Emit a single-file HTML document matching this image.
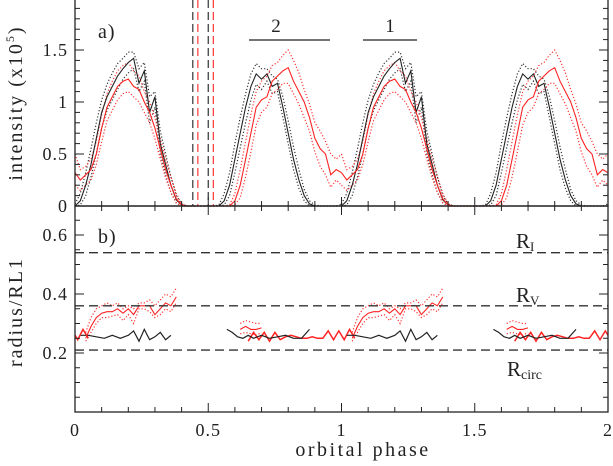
<!DOCTYPE html>
<html><head><meta charset="utf-8"><style>
body{margin:0;background:#fff}
svg text{font-family:"Liberation Serif",serif;fill:#222}
</style></head><body>
<svg id="c" width="613" height="461" xmlns="http://www.w3.org/2000/svg"></svg>
<script>
// ----- data (one orbital period, repeated for phase 1-2) -----
const phA = [0,0.02,0.04,0.06,0.08,0.10,0.12,0.14,0.16,0.18,0.20,0.22,0.24,0.26,0.28,0.30,0.32,0.34,0.36,0.38,0.40,0.42,0.44,0.46,0.48,0.50,0.52,0.54,0.56,0.58,0.60,0.62,0.64,0.66,0.68,0.70,0.72,0.74,0.76,0.78,0.80,0.82,0.84,0.86,0.88,0.90,0.92,0.94,0.96,0.98,1.00];
const blackI = [0,0.05,0.2,0.4,0.65,0.9,1.05,1.15,1.25,1.32,1.38,1.42,1.18,1.3,0.9,1.05,0.6,0.4,0.2,0.06,0.01,0,0,0,0,0,0,0,0.05,0.2,0.45,0.7,0.95,1.15,1.27,1.22,1.27,1.15,1.18,0.95,0.7,0.45,0.25,0.1,0.02,0,0,0,0,0,0];
const blackHi = [0.02,0.12,0.32,0.55,0.8,1.02,1.17,1.28,1.37,1.42,1.48,1.48,1.32,1.38,1.05,1.1,0.72,0.5,0.28,0.1,0.02,0,0,0,0,0,0,0.01,0.12,0.32,0.6,0.85,1.08,1.27,1.37,1.32,1.32,1.25,1.22,1.05,0.82,0.57,0.35,0.16,0.05,0.01,0,0,0,0,0.02];
const blackLo = [0,0.01,0.1,0.28,0.5,0.75,0.92,1.02,1.12,1.22,1.28,1.32,1.1,1.2,0.8,0.95,0.5,0.3,0.13,0.03,0,0,0,0,0,0,0,0,0.01,0.1,0.32,0.56,0.8,1.02,1.17,1.12,1.2,1.08,1.1,0.85,0.6,0.35,0.17,0.05,0,0,0,0,0,0,0];
const redI = [0.32,0.25,0.3,0.35,0.5,0.75,0.95,1.05,1.15,1.2,1.22,1.15,1.12,1.0,0.9,0.75,0.55,0.35,0.2,0.07,0.01,0,0,0,0,0,0,0,0,0,0.05,0.2,0.45,0.7,0.95,1.02,1.05,1.2,1.25,1.3,1.33,1.2,1.1,1.0,0.85,0.65,0.55,0.5,0.3,0.35,0.32];
const redHi = [0.5,0.35,0.38,0.45,0.62,0.88,1.08,1.2,1.3,1.35,1.38,1.3,1.25,1.1,1.0,0.85,0.65,0.45,0.28,0.12,0.02,0,0,0,0,0,0,0,0,0.01,0.12,0.35,0.62,0.88,1.1,1.2,1.25,1.35,1.38,1.45,1.5,1.4,1.28,1.12,0.98,0.8,0.72,0.62,0.5,0.45,0.5];
const redLo = [0.2,0.15,0.2,0.25,0.4,0.62,0.82,0.92,1.02,1.08,1.1,1.05,1.0,0.9,0.8,0.65,0.45,0.27,0.13,0.03,0,0,0,0,0,0,0,0,0,0,0.01,0.08,0.28,0.52,0.78,0.9,0.95,1.08,1.12,1.18,1.18,1.08,0.98,0.85,0.72,0.52,0.38,0.3,0.18,0.25,0.2];
// panel b
const phBk1 = [0.02,0.05,0.08,0.11,0.14,0.17,0.20,0.22,0.24,0.26,0.28,0.30,0.32,0.34,0.36];
const rBk1 = [0.26,0.26,0.255,0.25,0.26,0.25,0.26,0.275,0.24,0.28,0.245,0.255,0.27,0.245,0.26];
const phBk2 = [0.57,0.59,0.61,0.63,0.65,0.67,0.70,0.73,0.76,0.79,0.82,0.85,0.88];
const rBk2 = [0.28,0.27,0.255,0.25,0.26,0.25,0.26,0.25,0.255,0.26,0.25,0.25,0.28];
const phRd1 = [0.04,0.06,0.08,0.10,0.12,0.14,0.16,0.18,0.20,0.22,0.24,0.26,0.28,0.30,0.32,0.34,0.36,0.38];
const rRd1 = [0.25,0.29,0.32,0.335,0.34,0.34,0.35,0.335,0.35,0.33,0.36,0.36,0.36,0.33,0.35,0.37,0.36,0.39];
const rRd1Hi = [0.27,0.32,0.35,0.36,0.37,0.36,0.37,0.35,0.36,0.35,0.37,0.37,0.38,0.36,0.38,0.4,0.39,0.42];
const rRd1Lo = [0.24,0.27,0.3,0.32,0.32,0.325,0.33,0.31,0.33,0.3,0.35,0.35,0.34,0.32,0.33,0.35,0.34,0.37];
const phRd2 = [0.62,0.64,0.66,0.68,0.70];
const rRd2 = [0.28,0.29,0.28,0.28,0.285];
const rRd2Hi = [0.3,0.31,0.305,0.3,0.3];
const rRd2Lo = [0.265,0.27,0.265,0.26,0.27];
const phRd3 = [0.65,0.67,0.69,0.71,0.73,0.75,0.77,0.79,0.81,0.83,0.85,0.87,0.89,0.91,0.93,0.95,0.97,0.99,1.01,1.03,1.05];
const rRd3 = [0.24,0.27,0.245,0.27,0.24,0.27,0.245,0.255,0.26,0.255,0.25,0.25,0.255,0.25,0.25,0.275,0.245,0.275,0.245,0.28,0.25];
const radLines = [0.54,0.36,0.21];
const xTickLabels = ["0","0.5","1","1.5","2"];
const yTickA = ["0","0.5","1","1.5"];
const yTickB = ["0.2","0.4","0.6"];

const svg = document.getElementById('c');
const NS = 'http://www.w3.org/2000/svg';
const X0=75, X1=608;
const sx = p => X0 + p*(X1-X0)/2;
const syA = v => 206 - v*104;
const syB = r => 412 - r*295;
function el(t, a){const e=document.createElementNS(NS,t);for(const k in a)e.setAttribute(k,a[k]);svg.appendChild(e);return e;}
function poly(xs, ys, fy, off, stroke, dash, w, name){
  const pts = xs.map((p,i)=>sx(p+off).toFixed(1)+','+fy(ys[i]).toFixed(1)).join(' ');
  const e = el('polyline',{points:pts,fill:'none',stroke:stroke,'stroke-width':w,'stroke-dasharray':dash||'none'});
  
  
}
const clipA = el('clipPath',{id:'ca'}); const r1=document.createElementNS(NS,'rect');
r1.setAttribute('x',X0);r1.setAttribute('y',0);r1.setAttribute('width',X1-X0);r1.setAttribute('height',207);clipA.appendChild(r1);
const clipB = el('clipPath',{id:'cb'}); const r2=document.createElementNS(NS,'rect');
r2.setAttribute('x',X0);r2.setAttribute('y',206);r2.setAttribute('width',X1-X0);r2.setAttribute('height',206);clipB.appendChild(r2);
const gA = el('g',{'clip-path':'url(#ca)'}); const gB = el('g',{'clip-path':'url(#cb)'});
// panel a series
for (const off of [0,1]) {
  poly(phA, blackHi, syA, off, '#333', '1.2 2', 1.2, 'black-intensity-upper');
  poly(phA, blackLo, syA, off, '#333', '1.2 2', 1.2, 'black-intensity-lower');
  poly(phA, redHi, syA, off, '#f33', '1.2 2', 1.2, 'red-intensity-upper');
  poly(phA, redLo, syA, off, '#f33', '1.2 2', 1.2, 'red-intensity-lower');
  poly(phA, blackI, syA, off, '#222', null, 1.1, 'black-intensity-line');
  poly(phA, redI, syA, off, '#f22', null, 1.1, 'red-intensity-line');
}
Array.from(svg.querySelectorAll(':scope > polyline')).forEach(p=>gA.appendChild(p));
// panel b
for (const off of [0,1]) {
  poly(phRd1, rRd1Hi, syB, off, '#f33', '1.2 2', 1.2, 'red-radius-upper');
  poly(phRd1, rRd1Lo, syB, off, '#f33', '1.2 2', 1.2, 'red-radius-lower');
  poly(phRd2, rRd2Hi, syB, off, '#f33', '1.2 2', 1.2, 'red-radius-upper-2');
  poly(phRd2, rRd2Lo, syB, off, '#f33', '1.2 2', 1.2, 'red-radius-lower-2');
  poly(phRd1, rRd1, syB, off, '#f22', null, 1.1, 'red-radius-line');
  poly(phRd2, rRd2, syB, off, '#f22', null, 1.1, 'red-radius-line-2');
  poly(phRd3, rRd3, syB, off, '#f22', null, 1.5, 'red-radius-low');
  if (off===1) poly(phRd3.map(p=>p-1), rRd3, syB, 0, '#f22', null, 1.5, 'red-radius-low-start');
  poly(phBk1, rBk1, syB, off, '#222', null, 1.2, 'black-radius-line');
  poly(phBk2, rBk2, syB, off, '#222', null, 1.2, 'black-radius-line-2');
}
Array.from(svg.querySelectorAll(':scope > polyline')).forEach(p=>gB.appendChild(p));
radLines.forEach((r,i)=>{
  const l = el('line',{x1:X0,x2:X1,y1:syB(r),y2:syB(r),stroke:'#333','stroke-width':1.3,'stroke-dasharray':'9 5'});
  
  
});
[[0.442,'#333'],[0.5,'#333'],[0.461,'#f33'],[0.519,'#f33']].forEach(([p,c])=>{
  const l = el('line',{x1:sx(p),x2:sx(p),y1:0,y2:206,stroke:c,'stroke-width':1.2,'stroke-dasharray':'8 4'});
  
  
});
el('rect',{x:X0,y:-1,width:X1-X0,height:207,fill:'none',stroke:'#222','stroke-width':1.3});
el('rect',{x:X0,y:206,width:X1-X0,height:206,fill:'none',stroke:'#222','stroke-width':1.3});
function tick(x1,y1,x2,y2){el('line',{x1,y1,x2,y2,stroke:'#222','stroke-width':1});}
for(let i=0;i<=20;i++){const x=sx(i/10);const L=(i%5===0)?9:5;
  tick(x,206,x,206-L); tick(x,206,x,206+L); tick(x,412,x,412-L);}
for(let i=0;i<=19;i++){const y=syA(i/10);const L=(i%5===0)?9:5;
  tick(X0,y,X0+L,y); tick(X1,y,X1-L,y);}
for(let i=1;i<=13;i++){const y=syB(i*0.05);const L=(i%4===0)?9:5;
  tick(X0,y,X0+L,y); tick(X1,y,X1-L,y);}
xTickLabels.forEach((t,i)=>{const e=el('text',{x:sx(i*0.5),y:436,'font-size':18,'letter-spacing':1,'text-anchor':'middle'});e.textContent=t;});
yTickA.forEach((t,i)=>{const e=el('text',{x:68,y:syA(i*0.5)+6,'font-size':18,'letter-spacing':1,'text-anchor':'end'});e.textContent=t;});
yTickB.forEach((t,i)=>{const e=el('text',{x:68,y:syB((i+1)*0.2)+6,'font-size':18,'letter-spacing':1,'text-anchor':'end'});e.textContent=t;});
function txt(x,y,s,str,name,extra){const e=el('text',Object.assign({x,y,'font-size':s},extra||{}));e.innerHTML=str;return e;}
txt(363,456,20,'orbital phase','x-axis-title',{'text-anchor':'middle','letter-spacing':2.5});
txt(22,103,20,'intensity (x10<tspan font-size="12" dy="-8">5</tspan><tspan dy="8">)</tspan>','y-axis-title-a',{'text-anchor':'middle','letter-spacing':2,transform:'rotate(-90 22 103)'});
txt(22,312,20,'radius/RL1','y-axis-title-b',{'text-anchor':'middle','letter-spacing':2,transform:'rotate(-90 22 312)'});
txt(98,38,20,'a)','panel-a-label',{'letter-spacing':1});
txt(98,243,20,'b)','panel-b-label',{'letter-spacing':1});
txt(276,32,19,'2','interval-label-2',{'text-anchor':'middle'});
txt(390,32,19,'1','interval-label-1',{'text-anchor':'middle'});
el('line',{x1:249,x2:330,y1:40,y2:40,stroke:'#222','stroke-width':1.2});
el('line',{x1:363,x2:417,y1:40,y2:40,stroke:'#222','stroke-width':1.2});
txt(516,248,21,'R<tspan font-size="13" dy="3">I</tspan>','label-r-i');
txt(516,302,21,'R<tspan font-size="13" dy="3">V</tspan>','label-r-v');
txt(507,376,21,'R<tspan font-size="14" dy="3">circ</tspan>','label-r-circ');
</script>
</body></html>
